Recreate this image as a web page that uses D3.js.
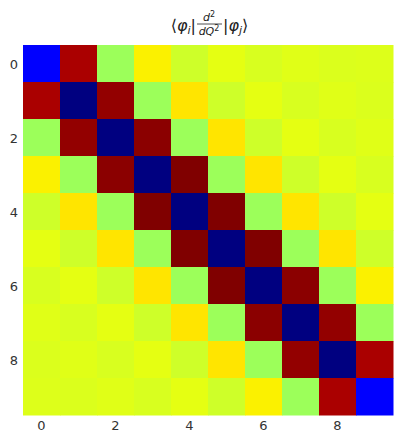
<html>
<head>
<script src="https://cdn.jsdelivr.net/npm/d3@7"></script>
<style>
body { margin: 0; background: #fff; }
text { font-family: "DejaVu Sans", sans-serif; }
</style>
</head>
<body>
<svg id="chart" width="402" height="443"></svg>
<script>
// colour position (0..1 on the jet map) of each matrix element
var rows = [0, 1, 2, 3, 4, 5, 6, 7, 8, 9]
var cols = [0, 1, 2, 3, 4, 5, 6, 7, 8, 9]
var matrix = [
    [0.12, 0.963, 0.54, 0.655, 0.600, 0.628, 0.612, 0.622, 0.616, 0.619],
    [0.963, 0.00, 0.983, 0.54, 0.667, 0.600, 0.628, 0.612, 0.622, 0.616],
    [0.54, 0.983, 0.00, 0.99, 0.54, 0.667, 0.600, 0.628, 0.612, 0.622],
    [0.655, 0.54, 0.99, 0.00, 1.00, 0.54, 0.667, 0.600, 0.628, 0.612],
    [0.600, 0.667, 0.54, 1.00, 0.00, 1.00, 0.54, 0.667, 0.600, 0.628],
    [0.628, 0.600, 0.667, 0.54, 1.00, 0.00, 1.00, 0.54, 0.667, 0.600],
    [0.612, 0.628, 0.600, 0.667, 0.54, 1.00, 0.00, 0.99, 0.54, 0.655],
    [0.622, 0.612, 0.628, 0.600, 0.667, 0.54, 0.99, 0.00, 0.983, 0.54],
    [0.616, 0.622, 0.612, 0.628, 0.600, 0.667, 0.54, 0.983, 0.00, 0.963],
    [0.619, 0.616, 0.622, 0.612, 0.628, 0.600, 0.655, 0.54, 0.963, 0.12]
]
var tickLabels = [0, 2, 4, 6, 8]

// matplotlib "jet" segment data
var jetR = [[0, 0], [0.35, 0], [0.66, 1], [0.89, 1], [1, 0.5]]
var jetG = [[0, 0], [0.125, 0], [0.375, 1], [0.64, 1], [0.91, 0], [1, 0]]
var jetB = [[0, 0.5], [0.11, 1], [0.34, 1], [0.65, 0], [1, 0]]
function seg(pts, t) {
    for (var k = 1; k < pts.length; k++) {
        if (t <= pts[k][0]) {
            var a = pts[k - 1], b = pts[k]
            return a[1] + (b[1] - a[1]) * (t - a[0]) / (b[0] - a[0])
        }
    }
    return pts[pts.length - 1][1]
}
function jet(t) {
    return d3.rgb(255 * seg(jetR, t), 255 * seg(jetG, t), 255 * seg(jetB, t))
}

var svg = d3.select("#chart")
var x = d3.scaleBand().domain(cols).range([23, 393])
var y = d3.scaleBand().domain(rows).range([45, 415])

var cells = []
matrix.forEach(function(row, i) {
    row.forEach(function(v, j) { cells.push({i: i, j: j, v: v}) })
})

svg.selectAll("rect.cell")
    .data(cells)
    .enter()
    .append("rect")
        .attr("x", function(d) { return x(d.j) })
        .attr("y", function(d) { return y(d.i) })
        .attr("width", x.bandwidth() + 0.5)
        .attr("height", y.bandwidth() + 0.5)
        .attr("fill", function(d) { return jet(d.v) })

svg.selectAll("text.xt")
    .data(tickLabels)
    .enter()
    .append("text")
        .attr("x", function(d) { return x(d) + x.bandwidth() / 2 })
        .attr("y", 430)
        .attr("text-anchor", "middle")
        .attr("font-size", 13)
        .attr("fill", "#333")
        .text(function(d) { return d })

svg.selectAll("text.yt")
    .data(tickLabels)
    .enter()
    .append("text")
        .attr("x", 18)
        .attr("y", function(d) { return y(d) + y.bandwidth() / 2 + 5 })
        .attr("text-anchor", "end")
        .attr("font-size", 13)
        .attr("fill", "#333")
        .text(function(d) { return d })

// title: <phi_i| d^2/dQ^2 |phi_j>
var t = svg.append("g").attr("fill", "#222")
var left = t.append("text").attr("x", 196).attr("y", 31).attr("text-anchor", "end").attr("font-size", 16)
left.append("tspan").text("\u27E8")
left.append("tspan").attr("font-style", "italic").text("\u03C6")
left.append("tspan").attr("font-style", "italic").attr("font-size", 11).attr("dy", 3).text("i")
left.append("tspan").attr("dy", -3).text("|")
t.append("text").attr("x", 209).attr("y", 21).attr("text-anchor", "middle").attr("font-size", 11)
    .attr("font-style", "italic").html("d<tspan dy='-4' font-size='8' font-style='normal'>2</tspan>")
t.append("line").attr("x1", 197).attr("x2", 222).attr("y1", 24).attr("y2", 24).attr("stroke", "#222").attr("stroke-width", 0.8)
t.append("text").attr("x", 209).attr("y", 35).attr("text-anchor", "middle").attr("font-size", 11)
    .attr("font-style", "italic").html("dQ<tspan dy='-4' font-size='8' font-style='normal'>2</tspan>")
var right = t.append("text").attr("x", 223).attr("y", 31).attr("font-size", 16)
right.append("tspan").text("|")
right.append("tspan").attr("font-style", "italic").text("\u03C6")
right.append("tspan").attr("font-style", "italic").attr("font-size", 11).attr("dy", 3).text("j")
right.append("tspan").attr("dy", -3).text("\u27E9")
</script>
</body>
</html>
